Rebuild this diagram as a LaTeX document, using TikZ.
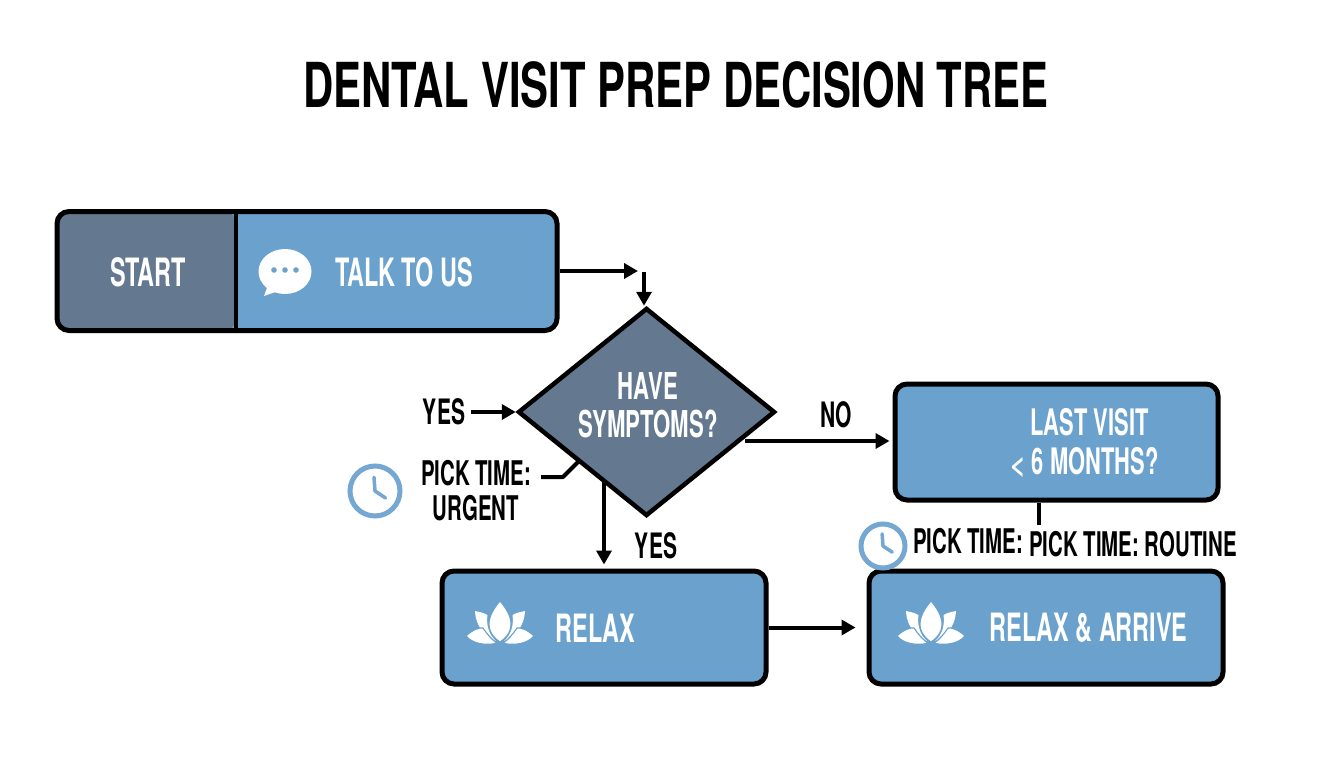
\documentclass[tikz,border=0pt]{standalone}
\usepackage{fontspec}
\setmainfont{TeX Gyre Heros}
\newfontfamily\condf[FakeStretch=0.6]{TeX Gyre Heros Bold}
\newfontfamily\titlef[FakeStretch=0.675]{TeX Gyre Heros Bold}
\newfontfamily\plainf{TeX Gyre Heros Bold}
\usetikzlibrary{shapes.geometric,arrows.meta}
\definecolor{boxblue}{HTML}{6AA1CD}
\definecolor{slate}{HTML}{64798F}
\definecolor{clockblue}{HTML}{74A7D2}
\tikzset{
  x=1pt,y=-1pt,
  blue box/.style={draw=black,fill=boxblue,line width=5pt,rounded corners=12pt,inner sep=0pt},
  white text/.style={text=white,font=\condf\fontsize{39}{39}\selectfont,inner sep=0pt},
  black text/.style={text=black,font=\condf\fontsize{35}{35}\selectfont,inner sep=0pt,align=center},
  conn/.style={draw=black,line width=4pt,-{Triangle[length=14pt,width=15pt]}},
  plainconn/.style={draw=black,line width=4pt},
  lotus/.pic={
    \fill[white] (-25,-31) .. controls (-20,-30) and (-16,-29) .. (-12.5,-27) .. controls (-14,-17) and (-11,-7) .. (-4,-1) .. controls (-13,-5) and (-24,-13) .. (-25,-31) -- cycle;
    \fill[white] (25,-31) .. controls (20,-30) and (16,-29) .. (12.5,-27) .. controls (14,-17) and (11,-7) .. (4,-1) .. controls (13,-5) and (24,-13) .. (25,-31) -- cycle;
    \filldraw[white,draw=boxblue,line width=1.1pt] (-34,-6) .. controls (-28,-12) and (-20,-15) .. (-17,-14) .. controls (-13,-8) and (-8,-2) .. (-3,1) .. controls (-8,3) and (-26,4) .. (-34,-6) -- cycle;
    \filldraw[white,draw=boxblue,line width=1.1pt] (34,-6) .. controls (28,-12) and (20,-15) .. (17,-14) .. controls (13,-8) and (8,-2) .. (3,1) .. controls (8,3) and (26,4) .. (34,-6) -- cycle;
    \filldraw[white,draw=boxblue,line width=1.1pt] (0,-41) .. controls (-6,-34) and (-11,-26) .. (-11,-18) .. controls (-11,-9) and (-5,-3) .. (0,0) .. controls (5,-3) and (11,-9) .. (11,-18) .. controls (11,-26) and (6,-34) .. (0,-41) -- cycle;
  },
  clockface/.pic={
    \draw[clockblue,line width=5pt,fill=white] (0,0) circle (#1);
    \draw[clockblue,line width=3.5pt,line cap=round,line join=round] (-0.04*#1,-0.55*#1) -- (0,0) -- (0.42*#1,0.28*#1);
  },
}
\begin{document}
\begin{tikzpicture}
\useasboundingbox (0,0) rectangle (1344,768);
\fill[white] (0,0) rectangle (1344,768);

\node[text=black,font=\titlef\fontsize{62}{62}\selectfont,inner sep=0pt] (title) at (676,85) {DENTAL VISIT PREP DECISION TREE};

% start panel
\node[blue box,minimum width=500pt,minimum height=119pt,
  path picture={\fill[slate] (path picture bounding box.north west) rectangle ([xshift=179pt]path picture bounding box.south west);}] (panel) at (307,271) {};
\draw[black,line width=4pt] (236,211) -- (236,330);
\node[white text] (start) at (148,272) {START};
\node[white text] (talk) at (404,272) {TALK TO US};
% speech bubble
\fill[white] (285,271.5) ellipse (26.5 and 22.5);
\fill[white] (268,285) -- (264,296) -- (284,289) -- cycle;
\fill[boxblue] (274,270) circle (2.8) (285,270) circle (2.8) (296,270) circle (2.8);

% diamond
\node[diamond,draw=black,fill=slate,line width=4.5pt,inner sep=0pt,minimum width=257pt,minimum height=208pt,aspect=1.236] (ask) at (646.5,412) {};
\node[white text,align=center,font=\condf\fontsize{37}{38}\selectfont] (asktext) at (648,405) {HAVE\\SYMPTOMS?};

% connectors near start
\coordinate (junction) at (638,271);
\coordinate (drop) at (644,272);
\draw[conn] (panel.east) -- (junction);
\draw[conn] (drop) -- (ask.north -| drop);

% yes left
\node[black text] (yes1) at (444,412) {YES};
\draw[conn] (yes1.east) ++(6,0) -- (ask.west);

% urgent
\node[black text,font=\condf\fontsize{34}{35}\selectfont] (urgent) at (476,491) {PICK TIME:\\URGENT};
\coordinate (kink) at (563,477);
\coordinate (urgentend) at (578,462);
\draw[plainconn,line join=round] (541,477) -- (kink) -- (urgentend);
\pic at (375,491) {clockface=25};

% no branch
\node[blue box,minimum width=323pt,minimum height=116pt] (last) at (1056.5,442) {};
\node[white text,align=right,font=\condf\fontsize{36.5}{39}\selectfont] (lasttext) at (1084,443) {LAST VISIT\hspace*{10pt}\\{\plainf\fontsize{28}{39}\selectfont<} 6 MONTHS?};
\node[black text] (no) at (836,415) {NO};
\coordinate (noout) at (745,441);
\draw[conn,shorten >=3pt] (noout) -- (last.west |- noout);

% yes down
\coordinate (yesout) at (604,482);
\node[blue box,minimum width=324pt,minimum height=113pt] (relax) at (604,627.5) {};
\draw[conn,shorten >=4pt] (yesout) -- (relax.north -| yesout);
\node[black text] (yes2) at (656,546) {YES};
\pic at (500,642) {lotus};
\node[white text] (relaxtext) at (595.5,628) {RELAX};

% arrive
\node[blue box,minimum width=354pt,minimum height=113pt] (arrive) at (1046,627.5) {};
\draw[conn,shorten >=11pt] (relax.east) -- (arrive.west);
\pic at (931,642) {lotus};
\node[white text] (arrivetext) at (1088.5,628) {RELAX \& ARRIVE};

% routine
\coordinate (routinestub) at (1039,525);
\draw[plainconn] (last.south -| routinestub) -- (routinestub);
\pic at (883,546) {clockface=22};
\node[black text,font=\condf\fontsize{34}{34}\selectfont] (pick) at (968,541) {PICK TIME:};
\node[black text,font=\condf\fontsize{34}{34}\selectfont] (routine) at (1133,544) {PICK TIME: ROUTINE};
\end{tikzpicture}
\end{document}
